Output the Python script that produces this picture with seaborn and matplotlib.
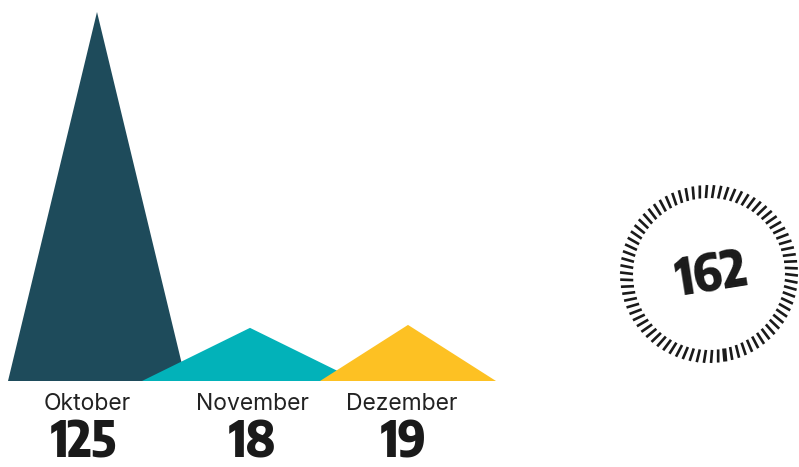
import numpy as np
import matplotlib
matplotlib.use("Agg")
import matplotlib.pyplot as plt
import seaborn as sns

# Monthly counts
months = ["Oktober", "November", "Dezember"]
counts = [125, 18, 19]
total = sum(counts)

# Peak colours per month
palette = sns.color_palette(["#1e4b5b", "#02b2b9", "#fdc123"])

# Triangle layout (canvas pixels): centre and half base width
centres = [97, 250, 408]
half_widths = [89, 108, 88]

sns.set_theme(style="white")
plt.rcParams["font.family"] = ["Inter", "DejaVu Sans"]
NUM_FONT = ["Encode Sans Condensed", "DejaVu Sans"]

W, H = 799, 467
base_px = 381          # baseline of the peaks
px_per_unit = 369 / 125

fig = plt.figure(figsize=(W / 100, H / 100), dpi=100)
fig.patch.set_facecolor("white")

ax = fig.add_axes([0, (H - base_px) / H, 1, base_px / H])
ax.set_xlim(0, W)
ax.set_ylim(0, base_px / px_per_unit)
ax.axis("off")

for c, w, v, col in zip(centres, half_widths, counts, palette):
    ax.fill([c - w, c, c + w], [0, v, 0], color=col, lw=0)

# Month names and values below the peaks
label_x = [87, 252, 402]
value_x = [84, 252, 404]
for m, v, lx, vx in zip(months, counts, label_x, value_x):
    fig.text(lx / W, 1 - 404 / H, m, ha="center", va="center",
             fontsize=16.5, color="#222222")
    fig.text(vx / W, 1 - 443 / H, str(v), ha="center", va="center",
             fontsize=36, fontweight=800, family=NUM_FONT, color="#1a1a1a")

# Dial with total
ov = fig.add_axes([0, 0, 1, 1])
ov.set_xlim(0, W)
ov.set_ylim(H, 0)
ov.axis("off")
ov.patch.set_alpha(0)

cx, cy = 709, 274
r_in, r_out = 76, 89
n_ticks = 78
tilt = np.deg2rad(1.0)
for k in range(n_ticks):
    th = 2 * np.pi * k / n_ticks
    lw = 3.0 if k == 17 else 1.9
    ov.plot([cx + r_in * np.cos(th), cx + r_out * np.cos(th + tilt)],
            [cy + r_in * np.sin(th), cy + r_out * np.sin(th + tilt)],
            color="#1a1a1a", lw=lw, solid_capstyle="butt")

ov.text(cx + 3, cy + 2, str(total), ha="center", va="center", rotation=9,
        fontsize=37, fontweight=800, family=NUM_FONT, color="#1a1a1a")

fig.savefig("out.png", dpi=100, facecolor="white")
